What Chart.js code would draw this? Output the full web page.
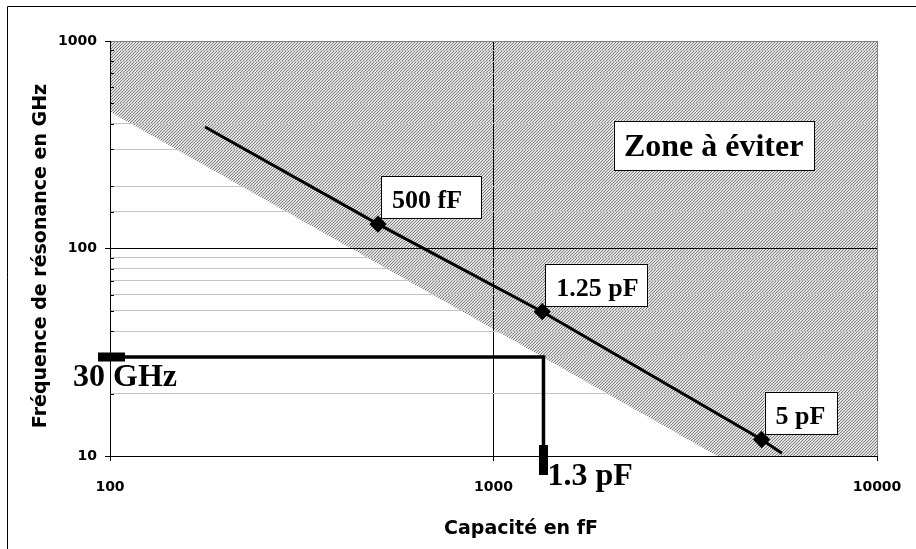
<!DOCTYPE html>
<html>
<head>
<meta charset="utf-8">
<script src="https://cdn.jsdelivr.net/npm/chart.js@4.4.1/dist/chart.umd.min.js"></script>
<style>
  html, body { margin: 0; padding: 0; background: #fff; }
  canvas { display: block; background: #fff; }
</style>
</head>
<body>
<canvas id="resoChart" width="916" height="549"></canvas>
<script>
// Capacité (fF) et fréquence de résonance (GHz)
const lineCap = [177, 500, 1340, 5000, 5650];
const lineFreq = [385, 131, 49.6, 12.0, 10.3];
const pointLabels = ['', '500 fF', '1.25 pF', '5 pF', ''];

// limite basse de la zone à éviter
const zoneCap = [100, 3830, 10000];
const zoneFreq = [456, 10, 10];

// repère 30 GHz -> 1.3 pF
const markCap = [100, 1350, 1350];
const markFreq = [30, 30, 10];

const xTicks = [100, 1000, 10000];
const yTicks = [10, 100, 1000];

const SANS = "'DejaVu Sans', sans-serif";
const SERIF = "'Liberation Serif', 'Times New Roman', serif";

const canvas = document.getElementById('resoChart');
const ctx = canvas.getContext('2d');

// hachures fines (diagonales montantes)
function makeHatch() {
    const c = document.createElement('canvas');
    c.width = 3; c.height = 3;
    const g = c.getContext('2d');
    g.fillStyle = '#e2e2e2';
    g.fillRect(0, 0, 3, 3);
    g.fillStyle = '#7e7e7e';
    for (let x = 0; x < 3; x++) {
        for (let y = 0; y < 3; y++) {
            if ((x + y) % 3 === 0) g.fillRect(x, y, 1, 1);
        }
    }
    return ctx.createPattern(c, 'repeat');
}

const isMajor = (v, list) => list.some(t => Math.abs(v - t) < t * 1e-6);
const toXY = (xs, ys) => xs.map((x, i) => ({ x: x, y: ys[i] }));

function box(c, x, y, w, h) {
    c.fillStyle = '#fff';
    c.fillRect(x, y, w, h);
    c.strokeStyle = '#000';
    c.lineWidth = 1;
    c.strokeRect(Math.round(x) + 0.5, Math.round(y) + 0.5, w - 1, h - 1);
}

// textes, cadres et repères dessinés à partir des échelles
const annotations = {
    id: 'annotations',
    afterDraw(chart) {
        const c = chart.ctx;
        const xs = chart.scales.x, ys = chart.scales.y;
        c.save();

        // cadre de la figure
        c.strokeStyle = '#000';
        c.lineWidth = 1;
        c.beginPath();
        c.moveTo(7.5, chart.height);
        c.lineTo(7.5, 6.5);
        c.lineTo(chart.width, 6.5);
        c.stroke();

        // titres des axes
        c.fillStyle = '#000';
        c.font = 'bold 19px ' + SANS;
        c.textAlign = 'center';
        c.textBaseline = 'alphabetic';
        c.fillText('Capacité en fF', 521, 534);
        c.save();
        c.translate(46, 256);
        c.rotate(-Math.PI / 2);
        c.fillText('Fréquence de résonance en GHz', 0, 0);
        c.restore();

        // petites graduations intérieures de l'axe des fréquences
        c.strokeStyle = '#000';
        c.beginPath();
        ys.ticks.forEach(t => {
            if (isMajor(t.value, yTicks)) return;
            const y = Math.round(ys.getPixelForValue(t.value)) + 0.5;
            c.moveTo(ys.right, y);
            c.lineTo(ys.right + 4, y);
        });
        c.stroke();

        // taquets épais du repère 30 GHz / 1.3 pF
        const mx = xs.getPixelForValue(markCap[0]);
        const my = ys.getPixelForValue(markFreq[0]);
        const vx = xs.getPixelForValue(markCap[1]);
        const vy = ys.getPixelForValue(markFreq[2]);
        c.fillStyle = '#000';
        c.fillRect(mx - 12, my - 4.5, 27, 9);
        c.fillRect(vx - 4.5, vy - 11, 9, 30);

        c.font = 'bold 32px ' + SERIF;
        c.textAlign = 'left';
        c.fillText('30 GHz', mx - 37, my + 29);
        c.fillText('1.3 pF', vx + 4, vy + 29);

        // étiquettes des points
        const meta = chart.getDatasetMeta(0);
        const widths = { '500 fF': 101, '1.25 pF': 103, '5 pF': 73 };
        c.font = 'bold 26px ' + SERIF;
        pointLabels.forEach((lab, i) => {
            if (!lab) return;
            const p = meta.data[i];
            const left = p.x + 3, bottom = p.y - 5, h = 43;
            box(c, left, bottom - h, widths[lab], h);
            c.fillStyle = '#000';
            c.textAlign = 'left';
            c.fillText(lab, left + 11, bottom - 11);
        });

        // zone à éviter
        const zx = xs.getPixelForValue(3750), zy = ys.getPixelForValue(312);
        box(c, zx - 100, zy - 25, 201, 50);
        c.fillStyle = '#000';
        c.font = 'bold 32px ' + SERIF;
        c.textAlign = 'center';
        c.fillText('Zone à éviter', zx, zy + 10);

        c.restore();
    }
};

const tickFont = { family: SANS, size: 14, weight: 'bold' };

new Chart(ctx, {
    type: 'line',
    data: {
        datasets: [
            {
                // courbe de résonance
                data: toXY(lineCap, lineFreq),
                borderColor: '#000',
                borderWidth: 3,
                pointStyle: 'rectRot',
                pointRadius: pointLabels.map(l => l ? 6.5 : 0),
                pointBackgroundColor: '#000',
                pointBorderColor: '#000',
                fill: false,
                order: 1
            },
            {
                data: toXY(markCap, markFreq),
                borderColor: '#000',
                borderWidth: 3.5,
                pointRadius: 0,
                fill: false,
                borderJoinStyle: 'miter',
                order: 2
            },
            {
                // zone hachurée
                data: toXY(zoneCap, zoneFreq),
                borderWidth: 0,
                borderColor: 'rgba(0,0,0,0)',
                backgroundColor: makeHatch(),
                pointRadius: 0,
                fill: 'end',
                order: 3
            }
        ]
    },
    options: {
        responsive: false,
        animation: false,
        events: [],
        layout: { padding: { left: 0, right: 39, top: 41, bottom: 0 } },
        plugins: {
            legend: { display: false },
            tooltip: { enabled: false },
            filler: { drawTime: 'beforeDraw' }
        },
        scales: {
            x: {
                type: 'logarithmic',
                min: 100,
                max: 10000,
                afterFit: s => {
                    s.height = 93;
                    s.paddingLeft = 0;
                    s.paddingRight = 0;
                },
                border: { color: '#000', width: 1 },
                grid: {
                    tickLength: 5,
                    color: t => {
                        const v = t.tick.value;
                        if (isMajor(v, [1000])) return '#000';
                        if (isMajor(v, [10000])) return '#808080';
                        return 'rgba(0,0,0,0)';
                    },
                    tickColor: t => isMajor(t.tick.value, xTicks) ? '#000' : 'rgba(0,0,0,0)'
                },
                ticks: {
                    autoSkip: false,
                    maxRotation: 0,
                    padding: 18,
                    color: '#000',
                    font: tickFont,
                    callback: v => isMajor(v, xTicks) ? String(Math.round(v)) : ''
                }
            },
            y: {
                type: 'logarithmic',
                min: 10,
                max: 1000,
                afterFit: s => {
                    s.width = 110;
                    s.paddingTop = 0;
                    s.paddingBottom = 0;
                },
                border: { color: '#000', width: 1 },
                grid: {
                    tickLength: 5,
                    color: t => {
                        const v = t.tick.value;
                        if (isMajor(v, [100])) return '#000';
                        if (isMajor(v, [1000])) return '#808080';
                        if (isMajor(v, [10])) return 'rgba(0,0,0,0)';
                        return '#c4c4c4';
                    },
                    tickColor: t => isMajor(t.tick.value, yTicks) ? '#000' : 'rgba(0,0,0,0)'
                },
                ticks: {
                    autoSkip: false,
                    padding: 8,
                    color: '#000',
                    font: tickFont,
                    callback: v => isMajor(v, yTicks) ? String(Math.round(v)) : ''
                }
            }
        }
    },
    plugins: [annotations]
});
</script>
</body>
</html>
